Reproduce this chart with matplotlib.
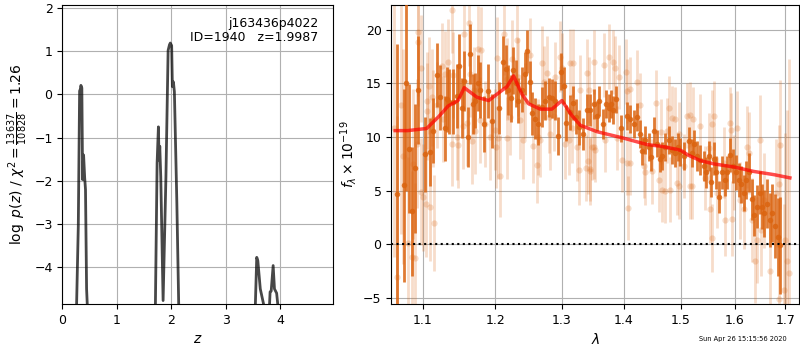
import matplotlib
matplotlib.use("Agg")
import matplotlib.pyplot as plt
from matplotlib.ticker import NullLocator, FixedLocator, FixedFormatter

plt.rcParams['font.size'] = 9

# ---- redshift probability curve ----
z_grid = [0.20, 0.262, 0.293, 0.317, 0.330, 0.341, 0.358, 0.372, 0.390, 0.410, 0.425, 0.445, 0.457, 0.60,
          1.60, 1.707, 1.738, 1.762, 1.774, 1.787, 1.805, 1.848, 1.900, 1.940, 1.965, 1.980, 2.005,
          2.018, 2.037, 2.055, 2.100, 2.134, 2.30,
          3.45, 3.540, 3.565, 3.585, 3.630, 3.690, 3.75,
          3.78, 3.800, 3.810, 3.830, 3.866, 3.890, 3.930, 3.950, 4.10]
log_pz = [-7.0, -4.85, -3.04, 0.08, 0.12, 0.21, 0.15, -1.97, -1.40, -1.93, -2.20, -4.50, -4.85, -7.0,
          -7.0, -4.85, -1.59, -0.75, -1.52, -1.20, -1.90, -4.77, -1.90, 1.02, 1.15, 1.19, 1.13,
          0.18, 0.29, 0.06, -2.50, -4.85, -7.0,
          -7.0, -4.85, -3.77, -3.85, -4.50, -4.85, -7.0,
          -7.0, -4.85, -4.57, -4.55, -3.96, -4.50, -4.60, -4.85, -7.0]

# ---- spectrum: primary beam ----
wave_a = [1.0669, 1.0755, 1.0781, 1.0824, 1.0859, 1.0898, 1.0929, 1.1030, 1.1088, 1.1141,
          1.1187, 1.1222, 1.1299, 1.1322, 1.1357, 1.1412, 1.1459, 1.1481, 1.1528, 1.1560,
          1.1606, 1.1634, 1.1676, 1.1714, 1.1746, 1.1784, 1.1831, 1.1902, 1.1950, 1.2059,
          1.2109, 1.2157, 1.2191, 1.2226, 1.2264, 1.2304, 1.2338, 1.2389, 1.2438, 1.2473,
          1.2514, 1.2548, 1.2589, 1.2639, 1.2691, 1.2742, 1.2792, 1.2844, 1.2895, 1.2937,
          1.2984, 1.3025, 1.3067, 1.3119, 1.3172, 1.3225, 1.3277, 1.3341, 1.3396, 1.3449,
          1.3505, 1.3560, 1.3600, 1.3660, 1.3710, 1.3750, 1.3790, 1.3830, 1.3880, 1.3960,
          1.4060, 1.4110, 1.4170, 1.4227, 1.4270, 1.4320, 1.4370, 1.4430, 1.4470, 1.4520,
          1.4580, 1.4620, 1.4660, 1.4720, 1.4780, 1.4840, 1.4900, 1.4940, 1.4990, 1.5060,
          1.5140, 1.5200, 1.5227, 1.5290, 1.5351, 1.5412, 1.5462, 1.5505, 1.5549, 1.5598,
          1.5649, 1.5692, 1.5757, 1.5806, 1.5852, 1.5901, 1.5966, 1.6030, 1.6074, 1.6121,
          1.6171, 1.6224, 1.6269, 1.6335, 1.6380, 1.6434, 1.6485, 1.6533, 1.6579, 1.6632,
          1.6684, 1.6738, 1.6799, 1.6846, 1.6886]
flux_a = [4.7, 5.5, 15.0, 8.9, 3.1, 7.1, 14.4, 8.4, 8.6, 10.6,
          15.8, 13.7, 10.8, 13.5, 13.3, 13.3, 13.8, 16.6, 12.7, 15.2,
          10.0, 17.7, 13.1, 13.4, 15.0, 14.4, 11.2, 14.3, 11.5, 12.7,
          17.0, 16.3, 14.4, 13.6, 16.2, 15.0, 13.4, 14.4, 15.9, 18.0,
          15.1, 12.2, 11.7, 11.2, 12.8, 13.4, 13.7, 13.6, 13.4, 10.1,
          16.1, 14.8, 11.3, 12.3, 13.2, 11.9, 10.9, 10.3, 12.5, 12.5,
          13.1, 12.0, 13.4, 11.2, 13.1, 12.7, 13.1, 12.5, 13.5, 10.8,
          12.0, 11.7, 11.2, 11.9, 10.3, 8.7, 9.7, 9.1, 8.1, 10.6,
          9.4, 8.0, 8.2, 9.1, 9.7, 8.8, 8.5, 9.1, 8.6, 8.2,
          9.6, 8.5, 9.4, 8.2, 7.9, 7.3, 6.7, 8.2, 5.8, 8.0,
          6.7, 4.4, 6.7, 6.0, 6.7, 8.3, 7.3, 6.7, 6.0, 5.6,
          4.8, 6.0, 6.7, 4.2, 2.7, 3.5, 4.8, 3.5, 2.9, 3.8,
          2.3, 2.9, 1.7, 0.7, -0.1]
err_a = [14.0, 9.0, 10.0, 6.0, 6.0, 6.0, 5.0, 3.5, 3.2, 3.0,
         3.0, 3.0, 3.0, 3.0, 3.0, 3.0, 3.0, 3.0, 2.8, 2.8,
         2.8, 2.8, 2.8, 2.6, 2.6, 2.6, 2.6, 2.5, 2.5, 2.4,
         2.4, 2.3, 2.3, 2.2, 2.2, 2.2, 2.1, 2.1, 2.0, 2.0,
         2.0, 2.0, 1.9, 1.9, 1.9, 1.8, 1.8, 1.8, 1.8, 1.8,
         1.7, 1.7, 1.7, 1.6, 1.6, 1.6, 1.6, 1.5, 1.5, 1.5,
         1.4, 1.4, 1.4, 1.4, 1.3, 1.3, 1.3, 1.3, 1.3, 1.3,
         1.3, 1.3, 1.3, 1.3, 1.3, 1.3, 1.3, 1.3, 1.3, 1.3,
         1.3, 1.3, 1.3, 1.3, 1.3, 1.3, 1.3, 1.3, 1.3, 1.3,
         1.3, 1.3, 1.3, 1.4, 1.4, 1.4, 1.4, 1.4, 1.4, 1.5,
         1.5, 1.5, 1.5, 1.5, 1.5, 1.6, 1.6, 1.6, 1.6, 1.7,
         1.7, 1.8, 1.8, 1.9, 1.9, 2.0, 2.0, 2.1, 2.2, 2.3,
         2.5, 2.7, 3.0, 3.6, 4.5]

# ---- spectrum: secondary beam ----
wave_b = [1.0630, 1.0660, 1.0710, 1.0745, 1.0810, 1.0855, 1.0875, 1.0900, 1.0920, 1.0935,
          1.0940, 1.0975, 1.0975, 1.1000, 1.1040, 1.1050, 1.1050, 1.1075, 1.1090, 1.1120,
          1.1140, 1.1150, 1.1187, 1.1250, 1.1275, 1.1300, 1.1340, 1.1385, 1.1390, 1.1410,
          1.1460, 1.1480, 1.1540, 1.1550, 1.1600, 1.1620, 1.1640, 1.1665, 1.1690, 1.1714,
          1.1755, 1.1784, 1.1800, 1.1850, 1.1920,
          1.2000, 1.2010, 1.2025, 1.2035, 1.2064, 1.2128, 1.2166, 1.2175, 1.2216, 1.2240,
          1.2314, 1.2338, 1.2360, 1.2413, 1.2438, 1.2514, 1.2560, 1.2614, 1.2639, 1.2665,
          1.2700, 1.2716, 1.2767, 1.2792, 1.2818, 1.2880, 1.2895, 1.2973, 1.2999, 1.3051,
          1.3104, 1.3130, 1.3156, 1.3172, 1.3235, 1.3277, 1.3288, 1.3385, 1.3396, 1.3406,
          1.3422, 1.3449, 1.3475,
          1.3450, 1.3505, 1.3505, 1.3530, 1.3670, 1.3690, 1.3750, 1.3830, 1.3860, 1.3890,
          1.3920, 1.3980, 1.4035, 1.4060, 1.4060, 1.4070, 1.4110, 1.4110, 1.4227, 1.4280,
          1.4340, 1.4370, 1.4490, 1.4550, 1.4610, 1.4635, 1.4660, 1.4720, 1.4750, 1.4780,
          1.4800, 1.4840, 1.4900, 1.4930, 1.4960, 1.4960, 1.5050, 1.5105, 1.5170, 1.5170,
          1.5200,
          1.5210, 1.5351, 1.5443, 1.5505, 1.5537, 1.5566, 1.5566, 1.5598, 1.5660, 1.5788,
          1.5820, 1.5913, 1.5926, 1.5946, 1.5979, 1.6043, 1.6105, 1.6171, 1.6235, 1.6269,
          1.6335, 1.6398, 1.6434, 1.6485, 1.6510, 1.6566, 1.6697, 1.6818, 1.6866, 1.6866,
          1.6886, 1.6980, 1.7000, 1.7038, 1.7076]
flux_b = [10.8, -3.0, 13.0, 8.2, 0.1, -1.2, 7.5, -1.3, 9.4, 19.8,
          18.9, 16.4, 4.9, 4.4, 3.8, 13.4, 12.4, 14.8, 3.5, 13.7,
          11.7, 2.0, 13.0, 16.6, 11.7, 15.9, 17.0, 9.4, 21.8, 15.8,
          10.0, 9.3, 11.0, 19.6, 11.3, 20.6, 15.9, 9.6, 14.4, 10.6,
          18.2, 11.6, 18.1, 11.2, 10.0,
          10.7, 9.1, 17.4, 9.9, 6.4, 19.6, 9.9, 15.4, 11.9, 17.3,
          19.0, 15.6, 11.6, 9.7, 13.4, 17.6, 9.2, 7.4, 10.0, 9.7,
          16.9, 15.1, 16.0, 11.9, 10.3, 12.0, 15.6, 17.5, 16.4, 9.4,
          9.7, 16.9, 10.8, 16.9, 9.1, 6.9, 14.4, 7.1, 16.0, 7.8,
          14.4, 6.8, 9.1,
          7.0, 17.0, 9.1, 8.8, 16.7, 9.7, 17.5, 17.0, 16.4, 9.9,
          15.6, 7.9, 16.1, 14.3, 7.6, 3.4, 14.5, 7.6, 15.1, 13.0,
          7.3, 6.7, 6.8, 13.2, 6.0, 10.5, 5.1, 5.0, 10.6, 12.7,
          5.1, 11.8, 11.7, 5.7, 10.3, 5.4, 7.3, 12.0, 12.1, 5.4,
          5.4,
          11.7, 11.0, 6.2, 9.0, 3.3, 11.2, 0.6, 12.0, 4.8, 7.6,
          2.3, 11.3, 10.7, 2.4, 6.7, 10.8, 4.1, 3.3, 9.1, 8.5,
          2.3, -1.5, 0.4, 9.7, 1.3, 4.1, -2.5, 4.8, 5.6, -5.1,
          9.3, -4.2, 0.4, -1.5, -2.7]
err_b = [12.0, 15.0, 12.0, 10.0, 8.0, 8.0, 7.0, 7.0, 6.0, 6.0,
         6.0, 5.0, 5.0, 5.0, 5.0, 4.5, 4.5, 4.5, 5.0, 4.5,
         4.5, 4.5, 4.0, 4.0, 4.0, 4.0, 4.0, 4.0, 4.0, 4.0,
         4.0, 4.0, 4.0, 4.0, 4.0, 4.0, 4.0, 4.0, 4.0, 4.0,
         4.0, 4.0, 4.0, 4.0, 4.0,
         3.8, 3.8, 3.8, 3.8, 3.8, 3.8, 3.8, 3.8, 3.6, 3.6,
         3.6, 3.6, 3.6, 3.6, 3.5, 3.5, 3.5, 3.5, 3.5, 3.4,
         3.4, 3.4, 3.4, 3.4, 3.4, 3.3, 3.3, 3.3, 3.3, 3.3,
         3.2, 3.2, 3.2, 3.2, 3.2, 3.2, 3.2, 3.1, 3.1, 3.1,
         3.1, 3.1, 3.1,
         3.0, 3.0, 3.0, 3.0, 3.0, 3.0, 3.0, 3.0, 3.0, 3.0,
         3.0, 3.0, 3.0, 3.0, 3.0, 3.0, 3.0, 3.0, 3.0, 3.0,
         3.0, 3.0, 3.0, 3.0, 3.0, 3.0, 3.0, 3.0, 3.0, 3.0,
         3.0, 3.0, 3.0, 3.0, 3.0, 3.0, 3.0, 3.0, 3.0, 3.0,
         3.0,
         3.0, 3.0, 3.0, 3.2, 3.2, 3.2, 3.2, 3.2, 3.3, 3.3,
         3.4, 3.4, 3.4, 3.5, 3.5, 3.5, 3.6, 3.7, 3.8, 3.8,
         3.9, 4.0, 4.0, 4.2, 4.2, 4.4, 4.6, 5.0, 5.5, 6.0,
         6.0, 8.0, 10.0, 14.0, 20.0]

# ---- best-fit model ----
wave_model = [1.064, 1.080, 1.105, 1.121, 1.134, 1.1475, 1.156, 1.174, 1.1905, 1.2025,
              1.217, 1.2266, 1.239, 1.249, 1.2666, 1.2844, 1.300, 1.3157, 1.329, 1.356,
              1.400, 1.440, 1.4634, 1.4932, 1.500, 1.5136, 1.5356, 1.5604, 1.600, 1.6367,
              1.677, 1.7096]
flux_model = [10.6, 10.6, 10.8, 11.9, 12.9, 13.4, 14.6, 13.7, 13.4, 14.0,
              14.7, 15.7, 14.0, 13.1, 12.6, 12.6, 13.4, 12.0, 11.1, 10.5,
              9.9, 9.3, 9.15, 8.85, 8.75, 8.3, 7.8, 7.5, 7.2, 6.8,
              6.5, 6.2]

fig = plt.figure(figsize=(8.0, 3.5), dpi=100)
ax1 = fig.add_axes([0.0779, 0.1314, 0.3388, 0.8543])
ax2 = fig.add_axes([0.4891, 0.1314, 0.5100, 0.8543])

# left: log p(z)
ax1.plot(z_grid, log_pz, color='k', alpha=0.72, lw=2)
ax1.set_xlim(0, 4.97)
ax1.set_ylim(-4.85, 2.07)
ax1.set_xticks([0, 1, 2, 3, 4])
ax1.set_yticks([-4, -3, -2, -1, 0, 1, 2])
ax1.grid(True)
ax1.set_xlabel(r'$z$', fontsize=10)
ax1.set_ylabel(r'$\log\ p(z)$ / $\chi^2=\frac{13637}{10828}=1.26$', fontsize=10, labelpad=3)
ax1.text(0.945, 0.96, 'j163436p4022\nID=1940   z=1.9987', transform=ax1.transAxes,
         ha='right', va='top', fontsize=9, linespacing=1.15)

# right: spectrum
base = '#db6410'
ax2.errorbar(wave_b, flux_b, yerr=err_b, fmt='o', color=base, alpha=0.22,
             ms=4.5, elinewidth=2.0, capsize=0, mew=0, zorder=2)
ax2.errorbar(wave_a, flux_a, yerr=err_a, fmt='o', color=base, alpha=0.85,
             ms=4.0, elinewidth=2.0, capsize=0, mew=0, zorder=3)
ax2.plot(wave_model, flux_model, color='r', alpha=0.7, lw=2.5, zorder=5)
ax2.axhline(0, color='k', ls=':', lw=1.5, zorder=4)

ax2.set_xscale('log')
ax2.set_xlim(1.059, 1.729)
ax2.set_ylim(-5.55, 22.3)
xt = [1.1, 1.2, 1.3, 1.4, 1.5, 1.6, 1.7]
ax2.xaxis.set_major_locator(FixedLocator(xt))
ax2.xaxis.set_major_formatter(FixedFormatter(['%.1f' % v for v in xt]))
ax2.xaxis.set_minor_locator(NullLocator())
ax2.set_yticks([-5, 0, 5, 10, 15, 20])
ax2.grid(True)
ax2.set_xlabel(r'$\lambda$', fontsize=10)
ax2.set_ylabel(r'$f_\lambda\times10^{-19}$', fontsize=10, labelpad=3)

fig.text(0.984, 0.022, 'Sun Apr 26 15:15:56 2020', ha='right', va='bottom', fontsize=4.8)

fig.savefig('out.png', dpi=100)
